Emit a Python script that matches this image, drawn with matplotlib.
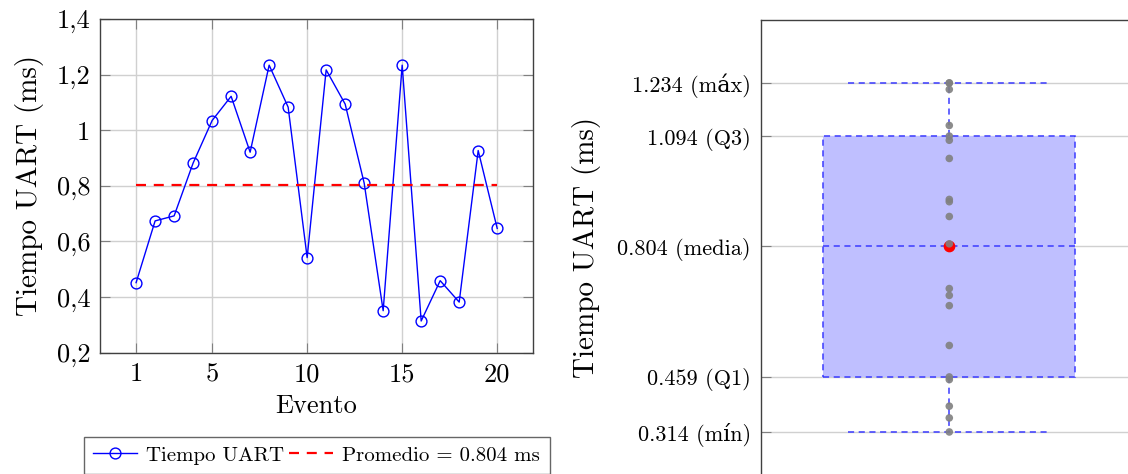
import matplotlib.pyplot as plt
import numpy as np

# datos
eventos = list(range(1, 21))
tiempo_uart = [0.452, 0.674, 0.692, 0.882, 1.035, 1.122, 0.921, 1.234, 1.083, 0.542,
               1.217, 1.094, 0.810, 0.351, 1.234, 0.314, 0.459, 0.382, 0.927, 0.647]

# estadisticos del diagrama de caja (etiquetas del eje)
t_min = 0.314
t_q1 = 0.459
t_media = 0.804
t_q3 = 1.094
t_max = 1.234
etiquetas_caja = ['0.314 (mín)', '0.459 (Q1)', '0.804 (media)',
                  '1.094 (Q3)', '1.234 (máx)']

plt.rcParams['font.family'] = ['cmr10', 'DejaVu Serif']
plt.rcParams['mathtext.fontset'] = 'cm'
plt.rcParams['axes.unicode_minus'] = False

W, H = 1128, 474
fig = plt.figure(figsize=(W / 100, H / 100), dpi=100)

# ---- grafico de lineas ----
ax1 = fig.add_axes([100 / W, 1 - 352.7 / H, 433.3 / W, 333.7 / H])
promedio = np.mean(tiempo_uart)
ax1.plot(eventos, tiempo_uart, color='blue', lw=1, marker='o', ms=7.8,
         mfc='none', mec='blue', mew=1, label='Tiempo UART')
ax1.plot([eventos[0], eventos[-1]], [promedio, promedio], color='red', lw=1.6,
         dashes=(4.5, 3.5), label='Promedio = %.3f ms' % promedio)
ax1.set_xlim(-0.9, 21.9)
ax1.set_ylim(0.2, 1.4)
ax1.set_xticks([1, 5, 10, 15, 20])
ax1.set_yticks([0.2, 0.4, 0.6, 0.8, 1.0, 1.2, 1.4])
ax1.set_yticklabels(['0,2', '0,4', '0,6', '0,8', '1', '1,2', '1,4'])
ax1.grid(True, color='#d0d0d0', lw=1)
ax1.set_axisbelow(True)
ax1.tick_params(direction='in', length=7, color='#808080', labelsize=19,
                top=True, right=True, pad=7)
ax1.set_xlabel('Evento', fontsize=19, labelpad=6)
ax1.set_ylabel('Tiempo UART (ms)', fontsize=21, labelpad=9)
for s in ax1.spines.values():
    s.set_color('#404040')
    s.set_linewidth(1)
leg = ax1.legend(loc='upper center', bbox_to_anchor=(0.5, -0.252), ncol=2,
                 fontsize=15, frameon=True, fancybox=False, edgecolor='#404040',
                 handlelength=2.1, columnspacing=0.25, handletextpad=0.45,
                 borderpad=0.45, borderaxespad=0)
leg.get_frame().set_linewidth(1)

# ---- diagrama de caja ----
ax2 = fig.add_axes([760.7 / W, 1 - 475.2 / H, (1145 - 760.7) / W, 455.2 / H])
stats = [{'med': t_media, 'q1': t_q1, 'q3': t_q3, 'whislo': t_min, 'whishi': t_max}]
ax2.bxp(stats, positions=[1], widths=0.5, capwidths=0.4, showfliers=False,
        patch_artist=True,
        boxprops=dict(facecolor='#bfbfff', edgecolor='#3a3aff', lw=1.1, ls=(0, (4, 3))),
        whiskerprops=dict(color='#3a3aff', lw=1.1, ls=(0, (4, 3))),
        capprops=dict(color='#3a3aff', lw=1.1, ls=(0, (4, 3))),
        medianprops=dict(color='#3a3aff', lw=1.1, ls=(0, (4, 3))))
ax2.scatter([1], [t_media], s=55, color='red', zorder=3)
ax2.scatter([1] * len(tiempo_uart), tiempo_uart, s=30, color='#808080',
            alpha=0.9, zorder=4, edgecolors='none')
ax2.set_xlim(1 - 0.3736, 1 + 0.3877)
ax2.set_ylim(0.2, 1.4)
ax2.set_yticks([t_min, t_q1, t_media, t_q3, t_max])
ax2.set_yticklabels(etiquetas_caja)
ax2.set_xticks([])
ax2.yaxis.grid(True, color='#d0d0d0', lw=1)
ax2.set_axisbelow(True)
ax2.tick_params(axis='y', direction='in', length=7, color='#808080',
                labelsize=16, right=True, pad=7)
ax2.set_ylabel('Tiempo UART (ms)', fontsize=21, labelpad=12)
for s in ax2.spines.values():
    s.set_color('#404040')
    s.set_linewidth(1)

fig.savefig('out.png', dpi=100)
